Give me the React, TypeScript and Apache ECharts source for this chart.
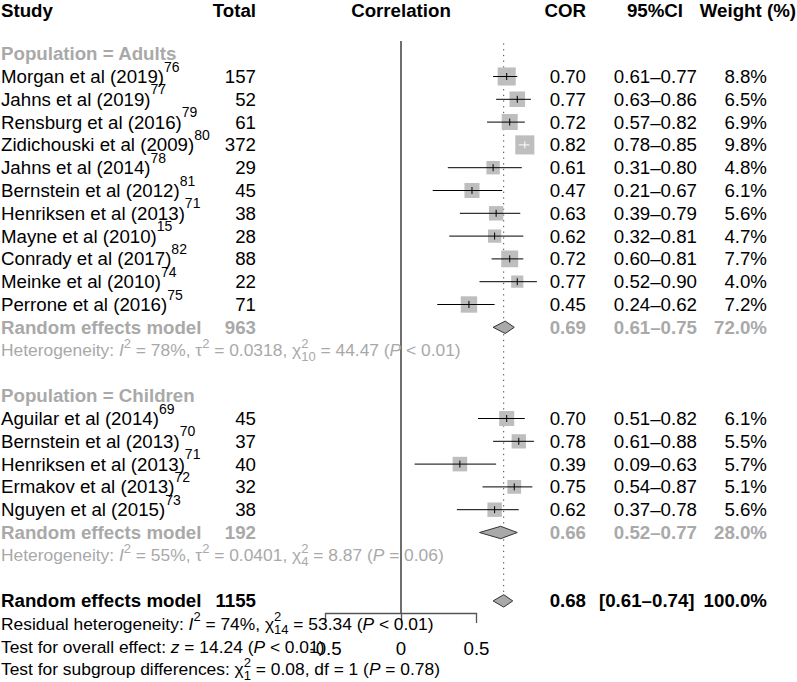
import React, { useEffect, useRef } from "react";
import * as echarts from "echarts";

const W = 797;
const H = 682;
const FONT = "'Liberation Sans', Arial, Helvetica, sans-serif";
const FS = 18.7;
const SFS = 14;
const STAT_FS = 17.4;
const STAT_SFS = 13;
const GREY = "#A9A9A9";
const BLACK = "#000000";

// ---------- data ----------
const adultStudies = [
  "Morgan et al (2019)",
  "Jahns et al (2019)",
  "Rensburg et al (2016)",
  "Zidichouski et al (2009)",
  "Jahns et al (2014)",
  "Bernstein et al (2012)",
  "Henriksen et al (2013)",
  "Mayne et al (2010)",
  "Conrady et al (2017)",
  "Meinke et al (2010)",
  "Perrone et al (2016)",
];
const adultRefs = ["76", "77", "79", "80", "78", "81", "71", "15", "82", "74", "75"];
const adultTotals = [157, 52, 61, 372, 29, 45, 38, 28, 88, 22, 71];
const adultCor = [0.7, 0.77, 0.72, 0.82, 0.61, 0.47, 0.63, 0.62, 0.72, 0.77, 0.45];
const adultLower = [0.61, 0.63, 0.57, 0.78, 0.31, 0.21, 0.39, 0.32, 0.6, 0.52, 0.24];
const adultUpper = [0.77, 0.86, 0.82, 0.85, 0.8, 0.67, 0.79, 0.81, 0.81, 0.9, 0.62];
const adultWeights = [8.8, 6.5, 6.9, 9.8, 4.8, 6.1, 5.6, 4.7, 7.7, 4.0, 7.2];

const childStudies = [
  "Aguilar et al (2014)",
  "Bernstein et al (2013)",
  "Henriksen et al (2013)",
  "Ermakov et al (2013)",
  "Nguyen et al (2015)",
];
const childRefs = ["69", "70", "71", "72", "73"];
const childTotals = [45, 37, 40, 32, 38];
const childCor = [0.7, 0.78, 0.39, 0.75, 0.62];
const childLower = [0.51, 0.61, 0.09, 0.54, 0.37];
const childUpper = [0.82, 0.88, 0.63, 0.87, 0.78];
const childWeights = [6.1, 5.5, 5.7, 5.1, 5.6];

const groupNames = ["Adults", "Children"];
const groupTotals = [963, 192];
const groupCor = [0.69, 0.66];
const groupLower = [0.61, 0.52];
const groupUpper = [0.75, 0.77];
const groupWeights = [72.0, 28.0];
const groupI2 = [78, 55];
const groupTau2 = ["0.0318", "0.0401"];
const groupQ = ["44.47", "8.87"];
const groupDf = ["10", "4"];
const groupP = ["< 0.01", "= 0.06"];

const overallTotal = 1155;
const overallCor = 0.68;
const overallLower = 0.61;
const overallUpper = 0.74;
const overallWeight = 100.0;
const residI2 = 74;
const residQ = "53.34";
const residDf = "14";
const residP = "< 0.01";
const overallZ = "14.24";
const overallP = "< 0.01";
const subgroupQ = "0.08";
const subgroupDf = "1";
const subgroupP = "= 0.78";

const headers = ["Study", "Total", "Correlation", "COR", "95%CI", "Weight (%)"];
const axisTicks = [-0.5, 0, 0.5];

// ---------- layout ----------
const ROW0 = 76.5; // pixel centre of first study row
const ROWH = 22.8;
const Y_MIN = -ROW0 / ROWH;
const Y_MAX = (H - ROW0) / ROWH;
const HEADER_ROW = (10 - ROW0) / ROWH;
const PX_PER_UNIT = 151;
const ZERO_X = 401;
const X_MIN = -0.6;
const X_MAX = 1.0;
const GRID_LEFT = ZERO_X + X_MIN * PX_PER_UNIT;
const GRID_RIGHT = W - (ZERO_X + X_MAX * PX_PER_UNIT);
const AXIS_Y = 613;

const COL_STUDY = 1;
const COL_TOTAL = 256;
const COL_HEAD_CORR = 401;
const COL_COR = 586;
const COL_CI = 697;
const COL_CI_HEAD = 655;
const COL_W = 767;
const COL_W_HEAD = 796;

const ADULT_START = 0;
const CHILD_START = 15;

type Seg = { t?: string; it?: boolean; sup?: string; sub?: string; ref?: boolean };
type Item = {
  x: number;
  align: "left" | "right" | "center";
  segs: Seg[];
  color: string;
  bold?: boolean;
  stat?: boolean;
};
type TextRow = { r: number; items: Item[] };

const n = (t: string): Seg => ({ t });
const it = (t: string): Seg => ({ t, it: true });
const ref = (t: string): Seg => ({ sup: t, ref: true });
const sup = (t: string): Seg => ({ sup: t });
const ss = (a: string, b: string): Seg => ({ sup: a, sub: b });

let ctx: CanvasRenderingContext2D | null = null;
function fontStr(size: number, bold?: boolean, italic?: boolean) {
  return `${italic ? "italic" : "normal"} ${bold ? "bold" : "normal"} ${size}px ${FONT}`;
}
function measure(t: string, size: number, bold?: boolean, italic?: boolean) {
  if (!ctx) ctx = document.createElement("canvas").getContext("2d");
  if (!ctx) return t.length * size * 0.55;
  ctx.font = fontStr(size, bold, italic);
  return ctx.measureText(t).width;
}
function sizes(item: Item) {
  return item.stat ? { fs: STAT_FS, sfs: STAT_SFS } : { fs: FS, sfs: SFS };
}
function segWidth(s: Seg, item: Item) {
  const { fs, sfs } = sizes(item);
  if (s.t !== undefined) return measure(s.t, fs, item.bold, s.it);
  const a = s.sup ? measure(s.sup, sfs, item.bold) : 0;
  const b = s.sub ? measure(s.sub, sfs, item.bold) : 0;
  return Math.max(a, b);
}

function txt(x: number, y: number, t: string, size: number, color: string, bold?: boolean, italic?: boolean) {
  return {
    type: "text",
    style: {
      x,
      y,
      text: t,
      fill: color,
      fontSize: size,
      fontFamily: FONT,
      fontWeight: bold ? "bold" : "normal",
      fontStyle: italic ? "italic" : "normal",
      align: "left",
      verticalAlign: "middle",
    },
  };
}

function renderItemText(item: Item, y: number) {
  const { fs, sfs } = sizes(item);
  const total = item.segs.reduce((acc, s) => acc + segWidth(s, item), 0);
  let x = item.x;
  if (item.align === "right") x -= total;
  else if (item.align === "center") x -= total / 2;
  const out: any[] = [];
  for (const s of item.segs) {
    if (s.t !== undefined) {
      out.push(txt(x, y, s.t, fs, item.color, item.bold, s.it));
    } else {
      if (s.sup) out.push(txt(x, y + (s.ref ? -10 : -7), s.sup, sfs, item.color, item.bold));
      if (s.sub) out.push(txt(x, y + 6, s.sub, sfs, item.color, item.bold));
    }
    x += segWidth(s, item);
  }
  return out;
}

const f2 = (v: number) => v.toFixed(2);
const ci = (lo: number, hi: number) => `${f2(lo)}\u2013${f2(hi)}`;
const pct = (v: number) => `${v.toFixed(1)}%`;

function buildTextRows(): TextRow[] {
  const rows: TextRow[] = [];
  rows.push({
    r: HEADER_ROW,
    items: [
      { x: COL_STUDY, align: "left", segs: [n(headers[0])], color: BLACK, bold: true },
      { x: COL_TOTAL, align: "right", segs: [n(headers[1])], color: BLACK, bold: true },
      { x: COL_HEAD_CORR, align: "center", segs: [n(headers[2])], color: BLACK, bold: true },
      { x: COL_COR, align: "right", segs: [n(headers[3])], color: BLACK, bold: true },
      { x: COL_CI_HEAD, align: "center", segs: [n(headers[4])], color: BLACK, bold: true },
      { x: COL_W_HEAD, align: "right", segs: [n(headers[5])], color: BLACK, bold: true },
    ],
  });
  const groups = [
    { start: ADULT_START, studies: adultStudies, refs: adultRefs, tot: adultTotals, cor: adultCor, lo: adultLower, hi: adultUpper, w: adultWeights },
    { start: CHILD_START, studies: childStudies, refs: childRefs, tot: childTotals, cor: childCor, lo: childLower, hi: childUpper, w: childWeights },
  ];
  groups.forEach((g, gi) => {
    rows.push({
      r: g.start - 1,
      items: [{ x: COL_STUDY, align: "left", segs: [n(`Population = ${groupNames[gi]}`)], color: GREY, bold: true }],
    });
    g.studies.forEach((s, i) => {
      rows.push({
        r: g.start + i,
        items: [
          { x: COL_STUDY, align: "left", segs: [n(s), ref(g.refs[i])], color: BLACK },
          { x: COL_TOTAL, align: "right", segs: [n(String(g.tot[i]))], color: BLACK },
          { x: COL_COR, align: "right", segs: [n(f2(g.cor[i]))], color: BLACK },
          { x: COL_CI, align: "right", segs: [n(ci(g.lo[i], g.hi[i]))], color: BLACK },
          { x: COL_W, align: "right", segs: [n(pct(g.w[i]))], color: BLACK },
        ],
      });
    });
    const rr = g.start + g.studies.length;
    rows.push({
      r: rr,
      items: [
        { x: COL_STUDY, align: "left", segs: [n("Random effects model")], color: GREY, bold: true },
        { x: COL_TOTAL, align: "right", segs: [n(String(groupTotals[gi]))], color: GREY, bold: true },
        { x: COL_COR, align: "right", segs: [n(f2(groupCor[gi]))], color: GREY, bold: true },
        { x: COL_CI, align: "right", segs: [n(ci(groupLower[gi], groupUpper[gi]))], color: GREY, bold: true },
        { x: COL_W, align: "right", segs: [n(pct(groupWeights[gi]))], color: GREY, bold: true },
      ],
    });
    rows.push({
      r: rr + 1,
      items: [
        {
          x: COL_STUDY,
          align: "left",
          color: GREY,
          stat: true,
          segs: [
            n("Heterogeneity: "),
            it("I"),
            sup("2"),
            n(` = ${groupI2[gi]}%, \u03c4`),
            sup("2"),
            n(` = ${groupTau2[gi]}, \u03c7`),
            ss("2", groupDf[gi]),
            n(` = ${groupQ[gi]} (`),
            it("P"),
            n(` ${groupP[gi]})`),
          ],
        },
      ],
    });
  });
  const ro = CHILD_START + childStudies.length + 3;
  rows.push({
    r: ro,
    items: [
      { x: COL_STUDY, align: "left", segs: [n("Random effects model")], color: BLACK, bold: true },
      { x: COL_TOTAL, align: "right", segs: [n(String(overallTotal))], color: BLACK, bold: true },
      { x: COL_COR, align: "right", segs: [n(f2(overallCor))], color: BLACK, bold: true },
      { x: 599, align: "left", segs: [n(`[${ci(overallLower, overallUpper)}]`)], color: BLACK, bold: true },
      { x: COL_W, align: "right", segs: [n(pct(overallWeight))], color: BLACK, bold: true },
    ],
  });
  rows.push({
    r: ro + 1,
    items: [
      {
        x: COL_STUDY,
        align: "left",
        color: BLACK,
        stat: true,
        segs: [
          n("Residual heterogeneity: "),
          it("I"),
          sup("2"),
          n(` = ${residI2}%, \u03c7`),
          ss("2", residDf),
          n(` = ${residQ} (`),
          it("P"),
          n(` ${residP})`),
        ],
      },
    ],
  });
  rows.push({
    r: ro + 2,
    items: [
      {
        x: COL_STUDY,
        align: "left",
        color: BLACK,
        stat: true,
        segs: [n("Test for overall effect: "), it("z"), n(` = ${overallZ} (`), it("P"), n(` ${overallP})`)],
      },
    ],
  });
  rows.push({
    r: ro + 3,
    items: [
      {
        x: COL_STUDY,
        align: "left",
        color: BLACK,
        stat: true,
        segs: [
          n("Test for subgroup differences: \u03c7"),
          ss("2", subgroupDf),
          n(` = ${subgroupQ}, df = ${subgroupDf} (`),
          it("P"),
          n(` ${subgroupP})`),
        ],
      },
    ],
  });
  return rows;
}

function buildOption() {
  const textRows = buildTextRows();
  const studyData: number[][] = [];
  adultStudies.forEach((_, i) =>
    studyData.push([adultCor[i], ADULT_START + i, adultLower[i], adultUpper[i], adultWeights[i]])
  );
  childStudies.forEach((_, i) =>
    studyData.push([childCor[i], CHILD_START + i, childLower[i], childUpper[i], childWeights[i]])
  );
  const overallRow = CHILD_START + childStudies.length + 3;
  const diamondData: number[][] = [
    [groupCor[0], ADULT_START + adultStudies.length, groupLower[0], groupUpper[0]],
    [groupCor[1], CHILD_START + childStudies.length, groupLower[1], groupUpper[1]],
    [overallCor, overallRow, overallLower, overallUpper],
  ];
  const axisRow = (AXIS_Y - ROW0) / ROWH;

  return {
    animation: false,
    backgroundColor: "#ffffff",
    grid: [
      { left: GRID_LEFT, right: GRID_RIGHT, top: 0, bottom: 0 },
      { left: ZERO_X + axisTicks[0] * PX_PER_UNIT, width: (axisTicks[2] - axisTicks[0]) * PX_PER_UNIT, top: AXIS_Y - 50, height: 50 },
    ],
    xAxis: [
      { type: "value", gridIndex: 0, min: X_MIN, max: X_MAX, show: false },
      {
        type: "value",
        gridIndex: 1,
        min: axisTicks[0],
        max: axisTicks[2],
        interval: 0.5,
        position: "bottom",
        axisLine: { show: true, onZero: false, lineStyle: { color: "#555555", width: 1.3 } },
        axisTick: { show: true, length: 10, inside: false, lineStyle: { color: "#555555", width: 1.3 } },
        axisLabel: {
          show: true,
          fontSize: FS,
          fontFamily: FONT,
          color: "#000000",
          margin: 26,
          showMinLabel: true,
          showMaxLabel: true,
          formatter: (v: number) => String(v),
        },
        splitLine: { show: false },
      },
    ],
    yAxis: [
      { type: "value", gridIndex: 0, min: Y_MIN, max: Y_MAX, inverse: true, show: false },
      { type: "value", gridIndex: 1, min: 0, max: 1, show: false },
    ],
    series: [
      {
        type: "line",
        xAxisIndex: 1,
        yAxisIndex: 1,
        data: [],
        silent: true,
      },
      {
        type: "line",
        xAxisIndex: 0,
        yAxisIndex: 0,
        data: [
          [0, -1.56],
          [0, axisRow],
        ],
        symbol: "none",
        lineStyle: { color: "#555555", width: 1.7 },
        silent: true,
        z: 1,
      },
      {
        type: "line",
        xAxisIndex: 0,
        yAxisIndex: 0,
        data: [
          [overallCor, -1.45],
          [overallCor, overallRow - 0.38],
        ],
        symbol: "none",
        lineStyle: { color: "#444444", width: 1, type: [1.3, 4.4] },
        silent: true,
        z: 1,
      },
      {
        type: "custom",
        xAxisIndex: 0,
        yAxisIndex: 0,
        clip: false,
        silent: true,
        z: 3,
        data: studyData,
        renderItem: (_params: any, api: any) => {
          const est = api.value(0);
          const r = api.value(1);
          const lo = api.value(2);
          const hi = api.value(3);
          const w = api.value(4);
          const c = api.coord([est, r]);
          const pl = api.coord([lo, r]);
          const ph = api.coord([hi, r]);
          const side = 6.1 * Math.sqrt(w);
          const inside = pl[0] >= c[0] - side / 2 && ph[0] <= c[0] + side / 2;
          const lc = inside ? "#ffffff" : "#000000";
          return {
            type: "group",
            children: [
              {
                type: "rect",
                shape: { x: c[0] - side / 2, y: c[1] - side / 2, width: side, height: side },
                style: { fill: "#BEBEBE" },
              },
              {
                type: "line",
                shape: { x1: pl[0], y1: c[1], x2: ph[0], y2: c[1] },
                style: { stroke: lc, lineWidth: 1 },
              },
              {
                type: "line",
                shape: { x1: c[0], y1: c[1] - 3.5, x2: c[0], y2: c[1] + 3.5 },
                style: { stroke: lc, lineWidth: 1 },
              },
            ],
          };
        },
      },
      {
        type: "custom",
        xAxisIndex: 0,
        yAxisIndex: 0,
        clip: false,
        silent: true,
        z: 3,
        data: diamondData,
        renderItem: (_params: any, api: any) => {
          const est = api.value(0);
          const r = api.value(1);
          const c = api.coord([est, r]);
          const pl = api.coord([api.value(2), r]);
          const ph = api.coord([api.value(3), r]);
          const h = 6.2;
          return {
            type: "polygon",
            shape: {
              points: [
                [pl[0], c[1]],
                [c[0], c[1] - h],
                [ph[0], c[1]],
                [c[0], c[1] + h],
              ],
            },
            style: { fill: "#A9A9A9", stroke: "#333333", lineWidth: 1 },
          };
        },
      },
      {
        type: "custom",
        xAxisIndex: 0,
        yAxisIndex: 0,
        clip: false,
        silent: true,
        z: 5,
        data: textRows.map((row) => [0, row.r]),
        renderItem: (params: any, api: any) => {
          const row = textRows[params.dataIndex];
          const y = api.coord([0, api.value(1)])[1];
          const children: any[] = [];
          row.items.forEach((item) => {
            renderItemText(item, y).forEach((e) => children.push(e));
          });
          return { type: "group", children };
        },
      },
    ],
  };
}

export default function App() {
  const ref = useRef<HTMLDivElement>(null);
  useEffect(() => {
    if (!ref.current) return;
    const chart = echarts.init(ref.current, undefined, { renderer: "svg" });
    chart.setOption(buildOption() as any);
    return () => {
      chart.dispose();
    };
  }, []);
  return (
    <div
      ref={ref}
      style={{ position: "absolute", left: 0, top: 0, width: W, height: H, background: "#ffffff" }}
    />
  );
}
